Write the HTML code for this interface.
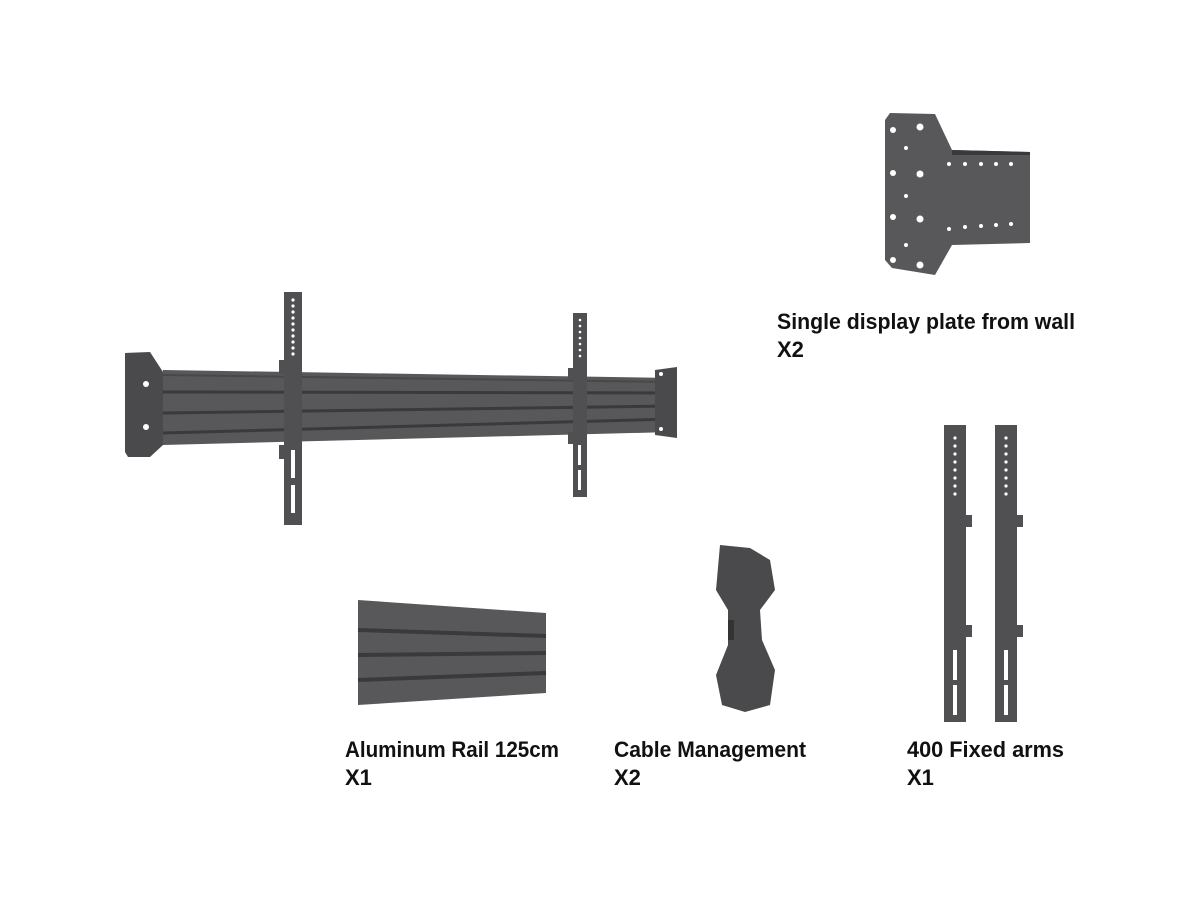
<!DOCTYPE html>
<html><head><style>
html,body{margin:0;padding:0;background:#fff;width:1200px;height:900px;overflow:hidden}
text{font-family:"Liberation Sans",sans-serif;font-weight:bold;fill:#111}
</style></head><body>
<svg width="1200" height="900" viewBox="0 0 1200 900" xmlns="http://www.w3.org/2000/svg">
<!-- main rail assembly -->
<path d="M125,353 L150,352 L163,372 L163,445 L150,457 L128,457 L125,452 Z" fill="#4a4a4c"/>
<circle cx="146" cy="384" r="3" fill="#fff"/><circle cx="146" cy="427" r="3" fill="#fff"/>
<path d="M163,370 L672,378 L672,432 L163,445 Z" fill="#58585a"/>
<g stroke="#3a3a3c" stroke-width="3">
<line x1="163" y1="392" x2="672" y2="393"/><line x1="163" y1="413" x2="672" y2="406"/><line x1="163" y1="433" x2="672" y2="419"/>
</g>
<line x1="163" y1="375" x2="672" y2="382" stroke="#48484a" stroke-width="2"/>
<path d="M655,370 L677,367 L677,438 L655,435 Z" fill="#4a4a4c"/>
<circle cx="661" cy="374" r="2" fill="#fff"/><circle cx="661" cy="429" r="2" fill="#fff"/>
<rect x="284" y="292" width="18" height="233" fill="#505052"/>
<rect x="279" y="360" width="6" height="14" fill="#505052"/><rect x="279" y="445" width="6" height="14" fill="#505052"/>
<g fill="#fff"><circle cx="293" cy="300" r="1.6"/><circle cx="293" cy="306" r="1.6"/><circle cx="293" cy="312" r="1.6"/><circle cx="293" cy="318" r="1.6"/><circle cx="293" cy="324" r="1.6"/><circle cx="293" cy="330" r="1.6"/><circle cx="293" cy="336" r="1.6"/><circle cx="293" cy="342" r="1.6"/><circle cx="293" cy="348" r="1.6"/><circle cx="293" cy="354" r="1.6"/>
<rect x="291" y="450" width="4" height="28"/><rect x="291" y="485" width="4" height="28"/></g>
<rect x="573" y="313" width="14" height="184" fill="#505052"/>
<rect x="568" y="368" width="6" height="12" fill="#505052"/><rect x="568" y="432" width="6" height="12" fill="#505052"/>
<g fill="#fff"><circle cx="580" cy="320" r="1.3"/><circle cx="580" cy="326" r="1.3"/><circle cx="580" cy="332" r="1.3"/><circle cx="580" cy="338" r="1.3"/><circle cx="580" cy="344" r="1.3"/><circle cx="580" cy="350" r="1.3"/><circle cx="580" cy="356" r="1.3"/>
<rect x="578" y="445" width="3" height="20"/><rect x="578" y="470" width="3" height="20"/></g>
<!-- top right plate -->
<path d="M890,113 L935,114 L952,150 L1030,152 L1030,243 L952,245 L935,275 L892,268 L885,260 L885,120 Z" fill="#58585a"/>
<path d="M952,150 L1030,152 L1030,155 L952,155 Z" fill="#3a3a3c"/>
<g fill="#fff"><circle cx="893" cy="130" r="3"/><circle cx="920" cy="127" r="3.5"/><circle cx="906" cy="148" r="2"/><circle cx="893" cy="173" r="3"/><circle cx="920" cy="174" r="3.5"/><circle cx="906" cy="196" r="2"/><circle cx="893" cy="217" r="3"/><circle cx="920" cy="219" r="3.5"/><circle cx="906" cy="245" r="2"/><circle cx="893" cy="260" r="3"/><circle cx="920" cy="265" r="3.5"/>
<circle cx="949" cy="164" r="2"/><circle cx="965" cy="164" r="2"/><circle cx="981" cy="164" r="2"/><circle cx="996" cy="164" r="2"/><circle cx="1011" cy="164" r="2"/>
<circle cx="949" cy="229" r="2"/><circle cx="965" cy="227" r="2"/><circle cx="981" cy="226" r="2"/><circle cx="996" cy="225" r="2"/><circle cx="1011" cy="224" r="2"/></g>
<!-- small rail -->
<path d="M358,600 L546,613 L546,693 L358,705 Z" fill="#58585a"/>
<g stroke="#3a3a3c" stroke-width="4"><line x1="358" y1="630" x2="546" y2="636"/><line x1="358" y1="655" x2="546" y2="653"/><line x1="358" y1="680" x2="546" y2="673"/></g>
<!-- cable management -->
<path d="M720,545 L750,548 L770,560 L775,590 L760,610 L762,640 L775,670 L770,705 L745,712 L722,705 L716,675 L728,645 L728,610 L716,590 Z" fill="#4a4a4c"/>
<rect x="728" y="620" width="6" height="20" fill="#333"/>
<!-- arms -->
<rect x="944" y="425" width="22" height="297" fill="#505052"/>
<rect x="995" y="425" width="22" height="297" fill="#505052"/>
<rect x="966" y="515" width="6" height="12" fill="#505052"/><rect x="966" y="625" width="6" height="12" fill="#505052"/>
<rect x="1017" y="515" width="6" height="12" fill="#505052"/><rect x="1017" y="625" width="6" height="12" fill="#505052"/>
<g fill="#fff"><circle cx="955" cy="438" r="1.6"/><circle cx="955" cy="446" r="1.6"/><circle cx="955" cy="454" r="1.6"/><circle cx="955" cy="462" r="1.6"/><circle cx="955" cy="470" r="1.6"/><circle cx="955" cy="478" r="1.6"/><circle cx="955" cy="486" r="1.6"/><circle cx="955" cy="494" r="1.6"/>
<circle cx="1006" cy="438" r="1.6"/><circle cx="1006" cy="446" r="1.6"/><circle cx="1006" cy="454" r="1.6"/><circle cx="1006" cy="462" r="1.6"/><circle cx="1006" cy="470" r="1.6"/><circle cx="1006" cy="478" r="1.6"/><circle cx="1006" cy="486" r="1.6"/><circle cx="1006" cy="494" r="1.6"/>
<rect x="953" y="650" width="4" height="30"/><rect x="953" y="685" width="4" height="30"/><rect x="1004" y="650" width="4" height="30"/><rect x="1004" y="685" width="4" height="30"/></g>
<!-- labels -->
<text x="777" y="329" font-size="22" textLength="298" lengthAdjust="spacingAndGlyphs">Single display plate from wall</text>
<text x="777" y="357" font-size="22">X2</text>
<text x="345" y="757" font-size="22" textLength="214" lengthAdjust="spacingAndGlyphs">Aluminum Rail 125cm</text>
<text x="345" y="785" font-size="22">X1</text>
<text x="614" y="757" font-size="22" textLength="192" lengthAdjust="spacingAndGlyphs">Cable Management</text>
<text x="614" y="785" font-size="22">X2</text>
<text x="907" y="757" font-size="22" textLength="157" lengthAdjust="spacingAndGlyphs">400 Fixed arms</text>
<text x="907" y="785" font-size="22">X1</text>
</svg>
</body></html>
